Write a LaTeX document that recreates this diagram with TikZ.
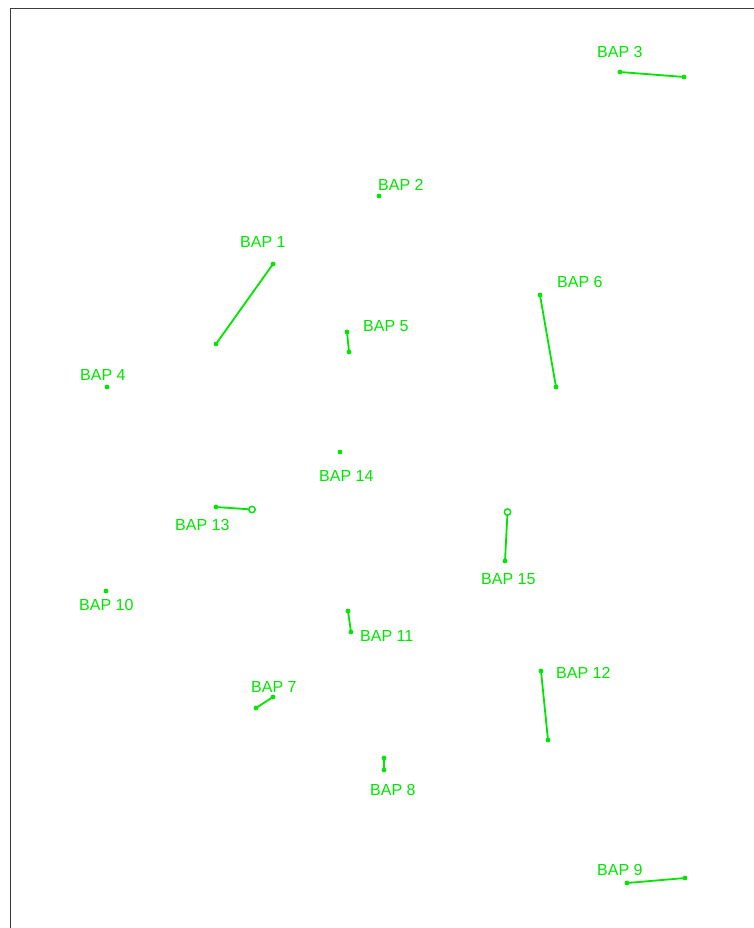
\documentclass[tikz,border=0pt]{standalone}
\usepackage{fontspec}
\setmainfont{Liberation Sans}
\definecolor{bapgreen}{RGB}{0,230,0}
\definecolor{framegray}{RGB}{60,60,60}
\tikzset{
  lbl/.style={anchor=west,inner sep=0pt,text=bapgreen,font=\fontsize{16}{18}\selectfont},
  seg/.style={draw=bapgreen,line width=1.8pt},
  dotpt/.style={fill=bapgreen},
  ring/.style={draw=bapgreen,line width=1.4pt,fill=white}
}
\begin{document}
\begin{tikzpicture}[x=1pt,y=-1pt]
\useasboundingbox (0,0) rectangle (753,928);
\fill[white] (0,0) rectangle (753,928);
\draw[framegray,line width=1.8pt] (10.5,960) -- (10.5,8.5) -- (780,8.5);

% labels
\node[lbl] (l3) at (597,52) {BAP 3};
\node[lbl] (l2) at (378,185) {BAP 2};
\node[lbl] (l1) at (240,242) {BAP 1};
\node[lbl] (l6) at (557,282) {BAP 6};
\node[lbl] (l5) at (363,326) {BAP 5};
\node[lbl] (l4) at (80,375) {BAP 4};
\node[lbl] (l14) at (319,476) {BAP 14};
\node[lbl] (l13) at (175,525) {BAP 13};
\node[lbl] (l15) at (481,579) {BAP 15};
\node[lbl] (l10) at (79,605) {BAP 10};
\node[lbl] (l11) at (360,636) {BAP 11};
\node[lbl] (l12) at (556,673) {BAP 12};
\node[lbl] (l7) at (251,687) {BAP 7};
\node[lbl] (l8) at (370,790) {BAP 8};
\node[lbl] (l9) at (597,870) {BAP 9};

% endpoints
\coordinate (a3) at (620,72);  \coordinate (b3) at (684,77);
\coordinate (p2) at (379,196);
\coordinate (a1) at (273,264); \coordinate (b1) at (216,344);
\coordinate (a6) at (540,295); \coordinate (b6) at (556,387);
\coordinate (a5) at (347,332); \coordinate (b5) at (349,352);
\coordinate (p4) at (107,387);
\coordinate (p14) at (340,452);
\coordinate (a13) at (216,507); \coordinate (b13) at (252,509.5);
\coordinate (a15) at (507.5,512); \coordinate (b15) at (505,561);
\coordinate (p10) at (106,591);
\coordinate (a11) at (348,611); \coordinate (b11) at (351,632);
\coordinate (a12) at (541,671); \coordinate (b12) at (548,740);
\coordinate (a7) at (273,697); \coordinate (b7) at (256,708);
\coordinate (a8) at (384,758); \coordinate (b8) at (384,770);
\coordinate (a9) at (627,883); \coordinate (b9) at (685,878);

% segments
\draw[seg] (a3) -- (b3);
\draw[seg] (a1) -- (b1);
\draw[seg] (a6) -- (b6);
\draw[seg] (a5) -- (b5);
\draw[seg] (a13) -- (b13);
\draw[seg] (a15) -- (b15);
\draw[seg] (a11) -- (b11);
\draw[seg] (a12) -- (b12);
\draw[seg] (a7) -- (b7);
\draw[seg] (a8) -- (b8);
\draw[seg] (a9) -- (b9);

% dots
\foreach \p in {a3,b3,p2,a1,b1,a6,b6,a5,b5,p4,p14,a13,b15,p10,a11,b11,a12,b12,a7,b7,a8,b8,a9,b9}
  \fill[dotpt] (\p) circle (2.4pt);
\draw[ring] (b13) circle (3.2pt);
\draw[ring] (a15) circle (3.2pt);
\end{tikzpicture}
\end{document}
